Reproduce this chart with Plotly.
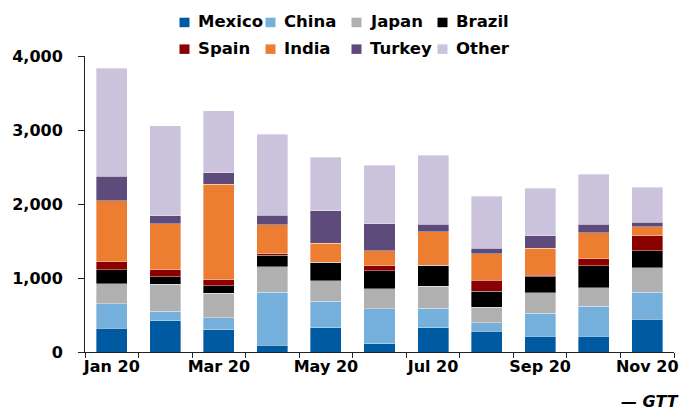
import plotly.graph_objects as go

# Monthly volumes by origin, 2020
months = ["Jan 20", "Feb 20", "Mar 20", "Apr 20", "May 20", "Jun 20",
          "Jul 20", "Aug 20", "Sep 20", "Oct 20", "Nov 20"]
mexico = [320, 420, 300, 90, 330, 110, 330, 280, 210, 210, 440]
china = [335, 130, 165, 720, 355, 475, 260, 115, 315, 410, 370]
japan = [265, 365, 330, 340, 275, 270, 300, 210, 275, 245, 330]
brazil = [190, 105, 100, 155, 255, 245, 285, 215, 220, 300, 225]
spain = [110, 90, 80, 25, 0, 65, 0, 150, 20, 95, 205]
india = [825, 620, 1295, 390, 255, 205, 450, 360, 365, 350, 120]
turkey = [330, 110, 150, 130, 440, 365, 100, 70, 165, 115, 65]
other = [1460, 1215, 840, 1090, 725, 790, 935, 705, 640, 680, 470]

series = [
    ("Mexico", mexico, "#005AA1"),
    ("China", china, "#75B0DC"),
    ("Japan", japan, "#B0B0B0"),
    ("Brazil", brazil, "#000000"),
    ("Spain", spain, "#8B0000"),
    ("India", india, "#ED7D31"),
    ("Turkey", turkey, "#5E4A7B"),
    ("Other", other, "#CBC2DC"),
]

FONT = "DejaVu Sans"
W, H = 696, 409
M_L, M_R, M_T, M_B = 85, 22, 56, 57
PW, PH = W - M_L - M_R, H - M_T - M_B


def px_x(p):
    """Horizontal pixel position -> paper coordinate."""
    return (p - M_L) / PW


def px_y(p):
    """Vertical pixel position (from top) -> paper coordinate."""
    return (H - M_B - p) / PH


x = list(range(len(months)))

fig = go.Figure()
for name, vals, color in series:
    fig.add_trace(go.Bar(
        x=x, y=vals, name=name, showlegend=False,
        marker=dict(color=color, line=dict(color="rgba(255,255,255,0.6)", width=0.6)),
        width=0.58,
    ))

# Two-row key above the plot: four columns, square swatch then bold label
shapes, annotations = [], []
for i, (name, _, color) in enumerate(series):
    row, col = divmod(i, 4)
    left = 179.5 + 86 * col
    top = 17.7 + 26.7 * row
    shapes.append(dict(
        type="rect", xref="paper", yref="paper",
        x0=px_x(left), x1=px_x(left + 10), y0=px_y(top + 9.5), y1=px_y(top),
        fillcolor=color, line=dict(width=0), layer="above",
    ))
    annotations.append(dict(
        text=name, xref="paper", yref="paper",
        x=px_x(left + 16), y=px_y(top + 4.3), xanchor="left", yanchor="middle",
        showarrow=False,
        font=dict(family=FONT, size=16.5, color="#000000", weight="bold"),
    ))

annotations.append(dict(
    text="<i>— GTT</i>", xref="paper", yref="paper",
    x=1.0, y=px_y(401), xanchor="right", yanchor="middle",
    height=16, valign="middle",
    xshift=7, showarrow=False,
    font=dict(family=FONT, size=16, color="#000000", weight="bold"),
))

fig.update_layout(
    width=W, height=H,
    barmode="stack",
    plot_bgcolor="white", paper_bgcolor="white",
    margin=dict(l=M_L, r=M_R, t=M_T, b=M_B, autoexpand=False),
    font=dict(family=FONT, size=16, color="#000000", weight="bold"),
    showlegend=False,
    xaxis=dict(
        range=[-0.5, len(months) - 0.5],
        tickmode="array", tickvals=x[::2], ticktext=months[::2],
        ticks="", showline=True, linecolor="#222222", linewidth=1,
        showgrid=False, zeroline=False,
        minor=dict(tickmode="linear", tick0=-0.5, dtick=1, ticks="outside",
                   ticklen=5, tickcolor="#222222", tickwidth=1, showgrid=False),
        tickfont=dict(family=FONT, size=16, color="#000000", weight="bold"),
    ),
    yaxis=dict(
        range=[0, 4000], tickvals=[0, 1000, 2000, 3000, 4000],
        tickformat=",d", ticks="outside", ticklen=6, tickcolor="#222222",
        showline=True, linecolor="#222222", linewidth=1,
        showgrid=False, zeroline=False, ticklabelstandoff=12,
        tickfont=dict(family=FONT, size=16, color="#000000", weight="bold"),
    ),
    shapes=shapes,
    annotations=annotations,
)

fig.write_html("out.html")
